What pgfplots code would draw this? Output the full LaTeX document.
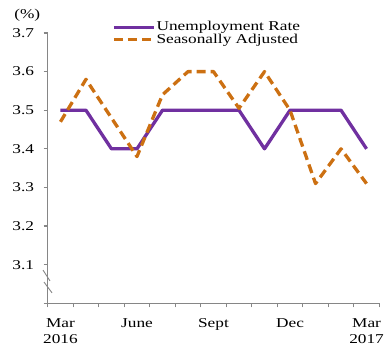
\documentclass[border=0pt]{standalone}
\usepackage{fontspec}
\setmainfont{Liberation Serif}[FakeStretch=1.28]
\usepackage{pgfplots}
\pgfplotsset{compat=1.18}
\definecolor{upurple}{RGB}{112,48,160}
\definecolor{sorange}{RGB}{204,112,18}
\definecolor{axgray}{RGB}{134,134,134}
\begin{document}
\fontsize{13.5bp}{15.7bp}\selectfont
\begin{tikzpicture}
\useasboundingbox (-47.7bp,-49.7bp) rectangle (343.3bp,303.3bp);
\begin{axis}[
  at={(0,0)}, anchor=south west,
  scale only axis, width=331.6bp, height=270.3bp,
  xmin=-0.5, xmax=12.5, ymin=3.0, ymax=3.7,
  axis lines=left, axis line style={-, draw=axgray, line width=1.5bp},
  clip=false,
  xtick={0,3,6,9,12},
  xticklabels={Mar\\2016, June, Sept, Dec, Mar\\2017},
  major x tick style={draw=none},
  minor xtick={-0.5,0.5,...,12.5},
  minor tick length=4bp,
  minor x tick style={draw=axgray, line width=1.2bp},
  xticklabel style={align=center, anchor=north, yshift=-7bp, font=\fontsize{13.5bp}{15.7bp}\selectfont},
  ytick={3.0,3.1,3.2,3.3,3.4,3.5,3.6,3.7},
  yticklabels={{},3.1,3.2,3.3,3.4,3.5,3.6,3.7},
  major y tick style={draw=axgray, line width=1.2bp},
  major tick length=4bp,
  tick align=outside,
  yticklabel style={xshift=-5bp, font=\fontsize{13.5bp}{15.7bp}\selectfont},
  /pgf/number format/assume math mode=true,
  legend style={at={(0.194,1.047)}, anchor=north west, draw=none, fill=none,
    inner sep=0pt, row sep=-1bp, font=\fontsize{13.5bp}{15.7bp}\selectfont,
    nodes={inner sep=1bp}},
  legend cell align=left,
  legend image code/.code={\draw[#1] (0bp,0bp) -- (40bp,0bp);},
]
\addplot[upurple, line width=3.3bp, line join=round] coordinates {
(0,3.5) (1,3.5) (2,3.4) (3,3.4) (4,3.5) (5,3.5) (6,3.5) (7,3.5) (8,3.4) (9,3.5) (10,3.5) (11,3.5) (12,3.4)};
\addlegendentry{Unemployment Rate}
\addplot[sorange, line width=3.3bp, dash pattern=on 9bp off 5bp, line join=round] coordinates {
(0,3.47) (1,3.58) (2,3.48) (3,3.38) (4,3.54) (5,3.6) (6,3.6) (7,3.505) (8,3.6) (9,3.5) (10,3.31) (11,3.4) (12,3.31)};
\addlegendentry{Seasonally Adjusted}
\draw[axgray, line width=0.9bp] (axis cs:-0.684,3.086) -- (axis cs:-0.41,3.058);
\draw[axgray, line width=0.9bp] (axis cs:-0.645,3.055) -- (axis cs:-0.33,3.027);
\node[anchor=center] at (axis cs:-1.3,3.745) {(\%)};
\end{axis}
\end{tikzpicture}
\end{document}
